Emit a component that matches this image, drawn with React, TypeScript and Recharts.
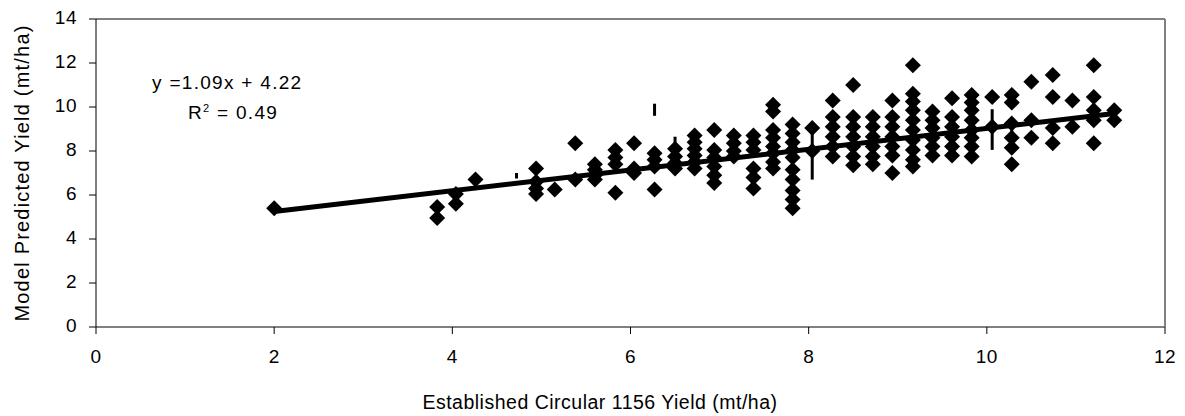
import { ScatterChart, Scatter, XAxis, YAxis, ReferenceLine } from 'recharts'

// x positions of the observation columns (mt/ha)
const columnX = [
  2.0, 3.83, 4.04, 4.26, 4.94, 5.15, 5.38, 5.6, 5.83, 6.04, 6.27, 6.5, 6.72, 6.94, 7.16, 7.38,
  7.6, 7.82, 8.04, 8.27, 8.5, 8.72, 8.94, 9.17, 9.39, 9.61, 9.83, 10.06, 10.28, 10.5, 10.74,
  10.96, 11.2, 11.43,
]

// predicted yields in each column
const columnY = [
  [5.4],
  [5.45, 4.95],
  [6.05, 5.6],
  [6.7],
  [7.2, 6.6, 6.3, 6.05],
  [6.25],
  [8.35, 6.7],
  [7.4, 7.15, 6.9, 6.7],
  [8.05, 7.7, 7.4, 6.1],
  [8.35, 7.2, 7.0],
  [7.9, 7.6, 7.3, 6.25],
  [8.1, 7.75, 7.45, 7.2],
  [8.7, 8.4, 8.1, 7.8, 7.5, 7.2],
  [8.95, 8.05, 7.7, 7.3, 6.9, 6.55],
  [8.7, 8.35, 8.0, 7.75],
  [8.7, 8.4, 8.05, 7.2, 6.8, 6.3],
  [10.1, 9.8, 8.95, 8.6, 8.2, 7.9, 7.5, 7.2],
  [9.2, 8.8, 8.4, 8.05, 7.7, 7.15, 6.7, 6.2, 5.8, 5.4],
  [9.05, 8.0],
  [10.3, 9.55, 9.1, 8.65, 8.2, 7.75],
  [11.0, 9.55, 9.1, 8.65, 8.2, 7.75, 7.35],
  [9.55, 9.1, 8.65, 8.2, 7.75, 7.4],
  [10.3, 9.55, 9.1, 8.65, 8.2, 7.8, 7.0],
  [11.9, 10.6, 10.25, 9.85, 9.4, 8.95, 8.5, 8.05, 7.6, 7.3],
  [9.8, 9.4, 9.05, 8.6, 8.2, 7.8],
  [10.4, 9.55, 9.1, 8.65, 8.2, 7.8],
  [10.55, 10.2, 9.85, 9.4, 8.95, 8.6, 8.2, 7.75],
  [10.45, 9.1],
  [10.55, 10.2, 9.25, 8.6, 8.15, 7.4],
  [11.15, 9.4, 8.6],
  [11.45, 10.45, 9.05, 8.35],
  [10.3, 9.1],
  [11.9, 10.45, 9.85, 9.4, 8.35],
  [9.85, 9.4],
]

// short vertical marks left in the original
const stemX = [4.72, 6.27, 6.5, 8.04, 10.06, 10.28]
const stemLow = [6.75, 9.6, 8.1, 6.7, 8.05, 8.2]
const stemHigh = [7.0, 10.15, 8.65, 9.0, 9.9, 9.25]

// fitted line end points
const trendX = [2.0, 11.43]
const trendY = [5.25, 9.7]

const xTicks = [0, 2, 4, 6, 8, 10, 12]
const yTicks = [0, 2, 4, 6, 8, 10, 12, 14]

const points = columnX.flatMap((x, i) => columnY[i].map((y) => ({ x, y })))

const font = '"Liberation Sans", Arial, sans-serif'

function Diamond(props: any) {
  const { cx, cy } = props
  const r = 8
  return <polygon points={`${cx},${cy - r} ${cx + r},${cy} ${cx},${cy + r} ${cx - r},${cy}`} fill="#000" />
}

function XTick(props: any) {
  const { x, y, payload } = props
  return (
    <text x={x} y={y + 27} textAnchor="middle" fill="#000" fontSize={19} fontFamily={font} letterSpacing={0.5}>
      {payload.value}
    </text>
  )
}

function YTick(props: any) {
  const { x, y, payload } = props
  return (
    <text x={x - 10} y={y + 5} textAnchor="end" fill="#000" fontSize={19} fontFamily={font} letterSpacing={0.5}>
      {payload.value}
    </text>
  )
}

export default function App() {
  return (
    <div style={{ position: 'relative', width: 1169, height: 408, fontFamily: font }}>
      <style>{'html,body{overflow:hidden}'}</style>
      <ScatterChart width={1169} height={400} margin={{ top: 11, right: 12, bottom: 0, left: 0 }}>
        <XAxis
          type="number"
          dataKey="x"
          domain={[0, 12]}
          ticks={xTicks}
          interval={0}
          height={81}
          axisLine={{ stroke: '#808080', strokeWidth: 2 }}
          tickLine={{ stroke: '#000' }}
          tickSize={7}
          tick={<XTick />}
        />
        <YAxis
          type="number"
          dataKey="y"
          domain={[0, 14]}
          ticks={yTicks}
          interval={0}
          width={88}
          axisLine={{ stroke: '#000' }}
          tickLine={{ stroke: '#000' }}
          tickSize={7}
          tick={<YTick />}
        />
        <ReferenceLine y={14} stroke="#808080" strokeWidth={2} />
        <ReferenceLine x={12} stroke="#808080" strokeWidth={2} />
        {stemX.map((x, i) => (
          <ReferenceLine
            key={'s' + i}
            segment={[{ x, y: stemLow[i] }, { x, y: stemHigh[i] }]}
            stroke="#000"
            strokeWidth={3}
          />
        ))}
        <Scatter data={points} shape={<Diamond />} fill="#000" isAnimationActive={false} />
        <ReferenceLine
          segment={[{ x: trendX[0], y: trendY[0] }, { x: trendX[1], y: trendY[1] }]}
          stroke="#000"
          strokeWidth={5}
        />
      </ScatterChart>
      <div style={{ position: 'absolute', left: 14, top: 165, width: 0, height: 0 }}>
        <div
          style={{
            position: 'absolute', left: -170, top: -12, width: 340, textAlign: 'center',
            transform: 'rotate(-90deg)', fontSize: 20, letterSpacing: 1.2, color: '#000',
            lineHeight: '24px', whiteSpace: 'nowrap',
          }}
        >
          Model Predicted Yield (mt/ha)
        </div>
      </div>
      <div
        style={{
          position: 'absolute', left: 372, top: 382, width: 440, textAlign: 'center',
          fontSize: 19.5, letterSpacing: 0.5, color: '#000', lineHeight: '24px', whiteSpace: 'nowrap',
        }}
      >
        Established Circular 1156 Yield (mt/ha)
      </div>
      <div style={{ position: 'absolute', left: 144, top: 63, fontSize: 19, letterSpacing: 1.3, color: '#000', lineHeight: '24px' }}>
        y =1.09x + 4.22
      </div>
      <div style={{ position: 'absolute', left: 180, top: 93, fontSize: 19, letterSpacing: 1.3, color: '#000', lineHeight: '24px' }}>
        R<sup style={{ fontSize: 11, verticalAlign: 'top', lineHeight: '14px' }}>2</sup> = 0.49
      </div>
    </div>
  )
}
